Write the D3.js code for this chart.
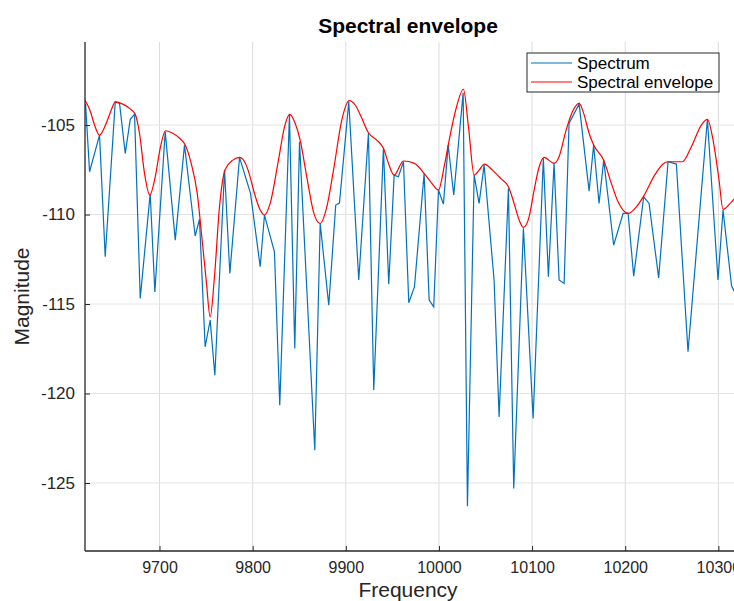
<!DOCTYPE html>
<html>
<head>
<meta charset="utf-8">
<script src="https://cdn.jsdelivr.net/npm/d3@7"></script>
<style>
  body { margin: 0; background: #fff; }
  svg { display: block; font-family: "Liberation Sans", Arial, sans-serif; }
</style>
</head>
<body>
<div id="chart"></div>
<script>
// spectrum vertices: [frequency, magnitude]
const spectrumFreq = [9620.6, 9624.9, 9635.6, 9641.7, 9652.5, 9657.1, 9663.2, 9668.6, 9673.2, 9679.3,
  9690.0, 9695.0, 9706.1, 9716.9, 9726.8, 9738.3, 9742.9, 9749.0, 9754.4, 9759.4,
  9769.8, 9775.5, 9785.9, 9797.7, 9808.1, 9812.7, 9823.4, 9829.1, 9839.5, 9845.2,
  9850.3, 9866.7, 9872.5, 9881.7, 9889.2, 9893.2, 9903.2, 9913.9, 9924.3, 9930.0,
  9940.4, 9946.1, 9951.9, 9956.5, 9961.9, 9967.6, 9973.7, 9984.1, 9989.5, 9994.4,
  9999.5, 10004.8, 10009.9, 10015.9, 10026.0, 10030.6, 10037.8, 10043.1, 10048.5, 10059.2,
  10064.6, 10074.6, 10080.3, 10090.7, 10101.1, 10112.1, 10117.5, 10123.6, 10129.0, 10134.4,
  10139.7, 10150.5, 10161.2, 10166.1, 10171.9, 10176.9, 10187.6, 10197.7, 10203.1, 10209.1,
  10219.8, 10225.6, 10235.9, 10246.0, 10254.9, 10267.4, 10288.2, 10299.6, 10305.0, 10314.2,
  10319.3];
const spectrumMag = [-103.83, -107.61, -105.56, -112.36, -103.70, -103.79, -106.58, -104.68, -104.40, -114.69,
  -108.82, -114.32, -105.37, -111.43, -106.12, -111.20, -110.27, -117.39, -115.90, -118.98,
  -107.52, -113.29, -106.81, -108.82, -112.92, -110.03, -112.08, -120.65, -104.44, -117.48,
  -105.93, -123.17, -110.50, -115.06, -109.47, -109.36, -103.70, -113.66, -105.46, -119.81,
  -106.30, -113.89, -107.80, -107.89, -107.05, -114.93, -114.04, -107.70, -114.78, -115.16,
  -108.63, -109.42, -106.12, -108.91, -103.19, -126.30, -107.80, -109.38, -107.24, -113.66,
  -121.31, -108.54, -125.31, -110.77, -121.40, -106.86, -113.48, -107.14, -113.66, -113.85,
  -104.90, -103.83, -108.69, -106.12, -109.38, -106.96, -111.71, -109.94, -109.94, -113.44,
  -109.01, -109.38, -113.54, -107.05, -107.18, -117.67, -104.68, -113.66, -109.75, -114.00,
  -114.50];

// spectral envelope
const envelopeFreq = [9619.5, 9625.9, 9630.2, 9635.6, 9642.8, 9648.2, 9652.5, 9660.6, 9667.8, 9673.9,
  9678.5, 9683.9, 9689.6, 9695.4, 9701.1, 9706.4, 9713.2, 9721.5, 9727.6, 9734.0,
  9740.5, 9745.4, 9750.1, 9754.4, 9759.0, 9764.4, 9770.5, 9778.7, 9785.9, 9793.1,
  9797.7, 9800.9, 9808.1, 9812.7, 9818.8, 9827.7, 9834.2, 9839.8, 9845.6, 9851.0,
  9858.1, 9865.3, 9872.5, 9879.6, 9886.8, 9895.7, 9903.6, 9910.1, 9916.5, 9924.3,
  9933.2, 9940.4, 9945.8, 9951.9, 9961.9, 9973.7, 9984.1, 9991.2, 9999.5, 10005.6,
  10011.0, 10018.0, 10026.3, 10031.7, 10037.8, 10043.1, 10048.8, 10057.4, 10066.3, 10074.6,
  10080.7, 10086.1, 10090.7, 10096.8, 10102.2, 10107.5, 10112.9, 10123.6, 10129.0, 10136.1,
  10143.3, 10150.5, 10155.4, 10161.2, 10166.1, 10176.9, 10185.1, 10192.3, 10203.1, 10212.0,
  10219.8, 10231.6, 10240.6, 10246.0, 10261.3, 10271.0, 10281.7, 10288.2, 10294.3, 10300.7,
  10305.0, 10314.2, 10319.3];
const envelopeMag = [-103.56, -104.26, -105.00, -105.56, -104.90, -104.16, -103.70, -103.83, -104.07, -104.40,
  -105.46, -107.70, -108.91, -107.89, -106.21, -105.32, -105.43, -105.74, -106.12, -107.14,
  -108.82, -111.24, -113.66, -115.72, -113.48, -109.57, -107.48, -106.96, -106.81, -107.24,
  -107.98, -108.63, -109.75, -110.03, -109.38, -106.96, -105.10, -104.40, -104.90, -105.84,
  -107.89, -109.85, -110.50, -109.57, -107.52, -104.72, -103.64, -103.88, -104.54, -105.43,
  -105.84, -106.30, -107.14, -107.80, -107.01, -107.14, -107.70, -108.17, -108.63, -107.33,
  -105.84, -104.16, -103.00, -105.10, -107.80, -107.52, -107.18, -107.52, -107.98, -108.45,
  -109.38, -110.31, -110.72, -110.13, -108.63, -107.36, -106.81, -107.14, -106.77, -105.37,
  -104.26, -103.79, -104.35, -105.46, -106.12, -106.96, -108.26, -109.29, -109.94, -109.57,
  -108.97, -107.80, -107.18, -107.05, -107.05, -106.21, -105.00, -104.68, -105.84, -108.07,
  -109.71, -109.29, -109.02];

const xTicks = [9700, 9800, 9900, 10000, 10100, 10200, 10300];
const yTicks = [-125, -120, -115, -110, -105];
const xLimits = [9620, 10320];
const yLimits = [-128.8, -100.36];

const seriesNames = ["Spectrum", "Spectral envelope"];
const seriesColors = ["#0072bd", "#ff0000"];

const W = 734, H = 601;
const margin = { top: 42, left: 85, bottom: 50 };
const plotRight = 737;
const plotBottom = H - margin.bottom;

const svg = d3.select("#chart").append("svg")
  .attr("width", W)
  .attr("height", H);

const x = d3.scaleLinear().domain(xLimits).range([margin.left, plotRight]);
const y = d3.scaleLinear().domain(yLimits).range([plotBottom, margin.top]);

// grid
svg.append("g")
  .selectAll("line")
  .data(xTicks)
  .join("line")
  .attr("x1", d => x(d)).attr("x2", d => x(d))
  .attr("y1", margin.top).attr("y2", plotBottom)
  .attr("stroke", "#dcdcdc");

svg.append("g")
  .selectAll("line")
  .data(yTicks)
  .join("line")
  .attr("x1", margin.left).attr("x2", plotRight)
  .attr("y1", d => y(d)).attr("y2", d => y(d))
  .attr("stroke", "#e4e4e4");

svg.append("clipPath").attr("id", "plotclip")
  .append("rect")
  .attr("x", margin.left).attr("y", margin.top)
  .attr("width", plotRight - margin.left).attr("height", plotBottom - margin.top);

const spectrum = spectrumFreq.map((f, i) => ({ f: f, m: spectrumMag[i] }));
const envelope = envelopeFreq.map((f, i) => ({ f: f, m: envelopeMag[i] }));

const line = d3.line().x(d => x(d.f)).y(d => y(d.m));
const smoothLine = d3.line().x(d => x(d.f)).y(d => y(d.m)).curve(d3.curveMonotoneX);

const plot = svg.append("g").attr("clip-path", "url(#plotclip)");

plot.append("path")
  .datum(spectrum)
  .attr("fill", "none")
  .attr("stroke", seriesColors[0])
  .attr("stroke-width", 1.2)
  .attr("d", line);

plot.append("path")
  .datum(envelope)
  .attr("fill", "none")
  .attr("stroke", seriesColors[1])
  .attr("stroke-width", 1.2)
  .attr("d", smoothLine);

// axes
const xAxis = d3.axisBottom(x).tickValues(xTicks).tickSize(-5).tickPadding(11).tickSizeOuter(0)
  .tickFormat(d3.format("d"));
const yAxis = d3.axisLeft(y).tickValues(yTicks).tickSize(-5).tickPadding(10).tickSizeOuter(0)
  .tickFormat(d3.format("d"));

const gx = svg.append("g")
  .attr("transform", `translate(0,${plotBottom})`)
  .call(xAxis);

const gy = svg.append("g")
  .attr("transform", `translate(${margin.left},0)`)
  .call(yAxis);

[gx, gy].forEach(g => {
  g.select(".domain").attr("stroke", "#262626").attr("stroke-width", 1.3);
  g.selectAll(".tick line").attr("stroke", "#262626").attr("stroke-width", 1);
  g.selectAll(".tick text")
    .attr("fill", "#262626")
    .style("font-size", "16px");
});
gy.selectAll(".tick text").style("font-size", "17px").text(d => "-" + Math.abs(d));
gy.select(".domain").attr("d", `M0,${margin.top}V${plotBottom}`);
gx.select(".domain").attr("d", `M${margin.left},0H${plotRight}`);

// labels
svg.append("text")
  .attr("x", 408).attr("y", 33)
  .attr("text-anchor", "middle")
  .style("font-size", "21px")
  .style("font-weight", "bold")
  .attr("fill", "#000")
  .text("Spectral envelope");

svg.append("text")
  .attr("x", 408).attr("y", 597)
  .attr("text-anchor", "middle")
  .style("font-size", "21px")
  .attr("fill", "#262626")
  .text("Frequency");

svg.append("text")
  .attr("transform", `translate(29,${(margin.top + plotBottom) / 2}) rotate(-90)`)
  .attr("text-anchor", "middle")
  .style("font-size", "21px")
  .attr("fill", "#262626")
  .text("Magnitude");

// legend
const legend = svg.append("g").attr("transform", "translate(527,53)");
legend.append("rect")
  .attr("width", 192).attr("height", 39)
  .attr("fill", "#fff")
  .attr("stroke", "#262626");

const rows = legend.selectAll("g.row")
  .data(seriesNames)
  .join("g")
  .attr("class", "row")
  .attr("transform", (d, i) => `translate(0,${10 + i * 19})`);

rows.append("line")
  .attr("x1", 4).attr("x2", 45)
  .attr("stroke", (d, i) => seriesColors[i])
  .attr("stroke-width", 1.2);

rows.append("text")
  .attr("x", 50).attr("y", 6)
  .style("font-size", "17px")
  .attr("fill", "#000")
  .text(d => d);
</script>
</body>
</html>
